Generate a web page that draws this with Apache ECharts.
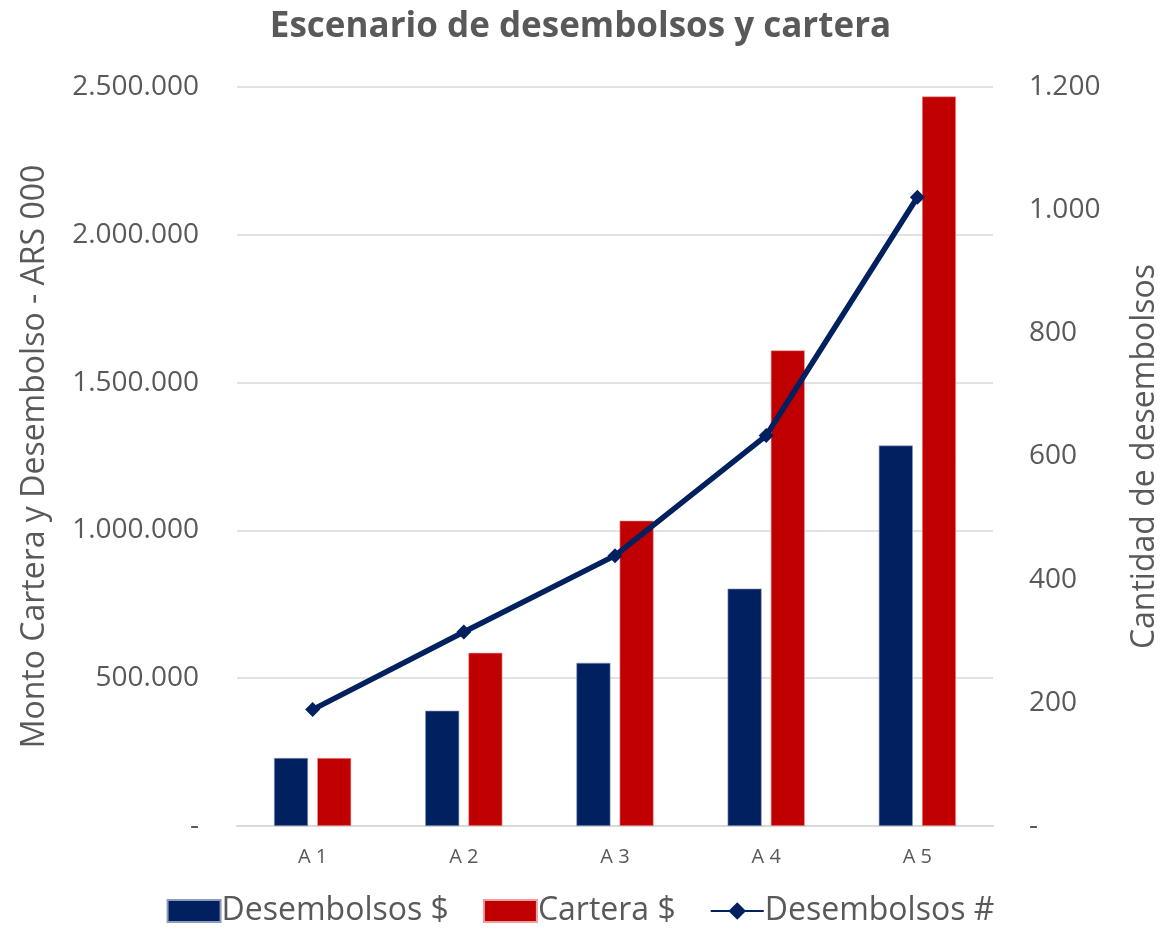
<!DOCTYPE html>
<html>
<head>
<meta charset="utf-8">
<script src="https://cdn.jsdelivr.net/npm/echarts@6/dist/echarts.min.js"></script>
<style>
  html, body { margin: 0; padding: 0; background: #fff; }
  #chart { width: 1161px; height: 932px; }
</style>
</head>
<body>
<div id="chart"></div>
<script>
const categories = ['A 1', 'A 2', 'A 3', 'A 4', 'A 5'];
const desembolsosMonto = [230000, 390000, 552000, 803000, 1287000];
const carteraMonto = [230000, 586000, 1033000, 1609000, 2468000];
const desembolsosCant = [189, 315, 439, 634, 1021];

const textColor = '#595959';
const fontFam = '"Open Sans", "Noto Sans", sans-serif';

// miles con punto
let fmtNum = function(v){
    if (v === 0) return '-';
    return String(v).replace(/\B(?=(\d{3})+(?!\d))/g, '.');
};

let chart = echarts.init(document.getElementById('chart'));
chart.setOption({
    animation: false,
    textStyle: { fontFamily: fontFam },
    title: {
        text: 'Escenario de desembolsos y cartera',
        left: 'center',
        top: 5,
        textStyle: { color: textColor, fontSize: 35, fontWeight: 'bold', fontFamily: fontFam }
    },
    grid: { left: 237, right: 168, top: 87, bottom: 106, outerBoundsMode: 'none' },
    legend: {
        bottom: 0,
        left: 'center',
        itemGap: 34,
        itemWidth: 53,
        itemHeight: 22,
        textStyle: { color: textColor, fontSize: 32, fontFamily: fontFam, padding: [0, 0, 0, -4] },
        data: [
            { name: 'Desembolsos $', icon: 'rect' },
            { name: 'Cartera $', icon: 'rect' },
            { name: 'Desembolsos #' }
        ]
    },
    xAxis: [{
        type: 'category',
        data: categories,
        axisTick: { show: false },
        axisLine: { lineStyle: { color: '#D9D9D9', width: 2 } },
        axisLabel: { color: textColor, fontSize: 20, margin: 21 }
    }],
    yAxis: [
        {
            type: 'value',
            min: 0, max: 2500000, interval: 500000,
            name: 'Monto Cartera y Desembolso - ARS 000',
            nameLocation: 'middle',
            nameGap: 186,
            nameTextStyle: { color: textColor, fontSize: 32 },
            axisLabel: { color: textColor, fontSize: 28, margin: 38, formatter: fmtNum },
            axisLine: { show: false },
            axisTick: { show: false },
            splitLine: { lineStyle: { color: '#D9D9D9', width: 1.5 } }
        },
        {
            type: 'value',
            min: 0, max: 1200, interval: 200,
            name: 'Cantidad de desembolsos',
            nameLocation: 'middle',
            nameGap: 136,
            nameRotate: 90,
            nameTextStyle: { color: textColor, fontSize: 32 },
            axisLabel: { color: textColor, fontSize: 28, margin: 36, formatter: fmtNum },
            axisLine: { show: false },
            axisTick: { show: false },
            splitLine: { show: false }
        }
    ],
    series: [
        {
            name: 'Desembolsos $',
            type: 'bar',
            barWidth: 34,
            barGap: '27%',
            itemStyle: { color: '#002060', borderColor: '#8E9BBA', borderWidth: 0.6 },
            data: desembolsosMonto
        },
        {
            name: 'Cartera $',
            type: 'bar',
            barWidth: 34,
            itemStyle: { color: '#C00000', borderColor: '#E8A0A0', borderWidth: 0.6 },
            data: carteraMonto
        },
        {
            name: 'Desembolsos #',
            type: 'line',
            yAxisIndex: 1,
            symbol: 'diamond',
            symbolSize: 15,
            lineStyle: { color: '#002060', width: 5.5 },
            itemStyle: { color: '#002060' },
            data: desembolsosCant,
            z: 5
        }
    ]
});
</script>
</body>
</html>
